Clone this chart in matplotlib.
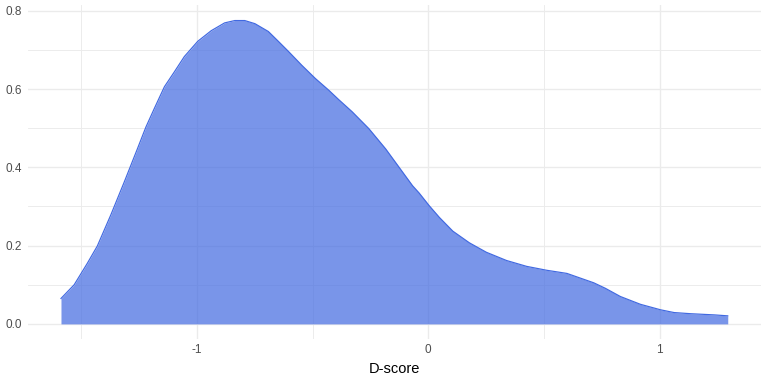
import matplotlib
import matplotlib.pyplot as plt
import numpy as np

matplotlib.use("Agg")

plt.rcParams["font.family"] = ["Liberation Sans", "DejaVu Sans"]

# density curve (D-score vs density)
d_score = [-1.587, -1.53, -1.474, -1.43, -1.372, -1.314, -1.257, -1.22, -1.184,
           -1.14, -1.097, -1.054, -0.996, -0.938, -0.88, -0.836, -0.793, -0.749,
           -0.691, -0.648, -0.604, -0.547, -0.488, -0.43, -0.387, -0.329, -0.257,
           -0.184, -0.126, -0.068, -0.039, 0.004, 0.048, 0.106, 0.178, 0.251,
           0.338, 0.425, 0.512, 0.599, 0.657, 0.715, 0.765, 0.83, 0.917, 1.004,
           1.062, 1.135, 1.237, 1.294]
density = [0.065, 0.10, 0.154, 0.199, 0.278, 0.362, 0.447, 0.503, 0.550,
           0.606, 0.644, 0.683, 0.722, 0.749, 0.769, 0.775, 0.775, 0.767,
           0.747, 0.722, 0.696, 0.661, 0.627, 0.597, 0.573, 0.542, 0.499,
           0.447, 0.400, 0.353, 0.334, 0.302, 0.272, 0.237, 0.207, 0.183,
           0.162, 0.147, 0.137, 0.129, 0.117, 0.105, 0.091, 0.070, 0.050, 0.036,
           0.029, 0.026, 0.023, 0.0206]

x_ticks = [-1, 0, 1]
x_minor = [-1.5, -0.5, 0.5]
y_ticks = [0.0, 0.2, 0.4, 0.6, 0.8]
y_minor = [0.1, 0.3, 0.5, 0.7]

fig = plt.figure(figsize=(8, 4), dpi=96)
ax = fig.add_axes([0.036, 0.117, 0.955, 0.869])

x = np.array(d_score)
y = np.array(density)

ax.fill_between(x, 0, y, color="royalblue", alpha=0.7, linewidth=0, zorder=2)
ax.plot(x, y, color="royalblue", linewidth=0.9, zorder=3)

xr = x.max() - x.min()
yr = y.max()
ax.set_xlim(x.min() - 0.05 * xr, x.max() + 0.05 * xr)
ax.set_ylim(-0.05 * yr, yr * 1.05)

ax.set_xticks(x_ticks)
ax.set_xticklabels([str(t) for t in x_ticks])
ax.set_xticks(x_minor, minor=True)
ax.set_yticks(y_ticks)
ax.set_yticklabels([f"{t:.1f}" for t in y_ticks])
ax.set_yticks(y_minor, minor=True)

ax.grid(which="major", color="#EBEBEB", linewidth=1.0, zorder=0)
ax.grid(which="minor", color="#EBEBEB", linewidth=0.7, zorder=0)
ax.set_axisbelow(True)

for s in ax.spines.values():
    s.set_visible(False)
ax.tick_params(which="both", length=0, labelsize=8.8, labelcolor="#4D4D4D", pad=4)
ax.set_xlabel("D-score", fontsize=11, color="black", labelpad=4)

fig.savefig("out.png", dpi=96)
